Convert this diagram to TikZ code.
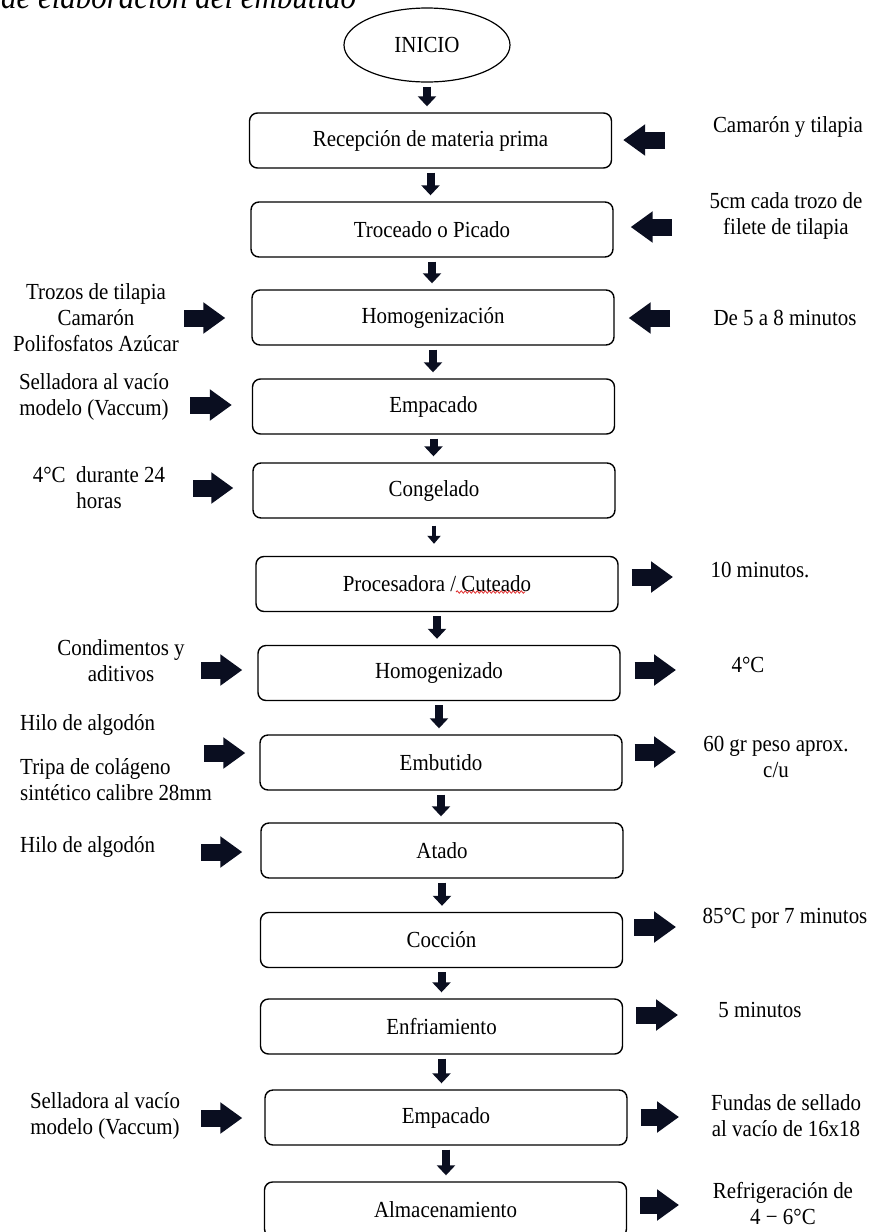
\documentclass[tikz,border=0pt]{standalone}
\usepackage{fontspec}
\setmainfont{Liberation Serif}[FakeStretch=0.91]
\usepackage{xcolor}
\usepackage{tikz}
\usetikzlibrary{shapes.geometric, arrows.meta, decorations.pathmorphing}
\definecolor{arrowblk}{RGB}{10,14,32}
\definecolor{spellred}{RGB}{225,45,45}
\newcommand{\boxfont}{\fontsize{23bp}{26bp}\selectfont}
\newcommand{\titlefont}{\fontsize{34bp}{40bp}\selectfont}
\tikzset{
  flowbox/.style={
    rectangle, rounded corners=8bp,
    minimum width=362bp, minimum height=55bp,
    inner sep=0pt, draw=black, line width=1.4bp,
    font=\boxfont
  },
  startnode/.style={ellipse, draw=black, line width=1.2bp,
    minimum width=166bp, minimum height=74bp, inner sep=0pt, font=\boxfont},
  sidelabel/.style={align=center, inner sep=0pt, font=\boxfont},
  sidelabelL/.style={align=left, anchor=west, inner sep=0pt, font=\boxfont},
  arrowdown/.style={-{Triangle[width=18bp,length=10bp]}, line width=8bp, arrowblk,
    shorten <=4bp, shorten >=6bp},
  arrowthin/.style={-{Triangle[width=13bp,length=8bp]}, line width=4.5bp, arrowblk,
    shorten <=7bp, shorten >=12bp},
  arrowside/.style={-{Triangle[width=30bp,length=22bp]}, line width=17bp, arrowblk}
}

\begin{document}
\begin{tikzpicture}[x=1bp, y=-1bp]
  \useasboundingbox (0,0) rectangle (875,1232);

  % Title (cut at the top of the page)
  \node[anchor=base west, inner sep=0pt, font=\titlefont\itshape] (titulo) at (1,8) {de elaboración del embutido};

  % Main chain of steps
  \node[startnode] (ini) at (427,45) {INICIO};
  \node[flowbox] (rec) at (430.5,140.5) {Recepción de materia prima};
  \node[flowbox] (troz) at (432,229.5) {Troceado o Picado};
  \node[flowbox] (homg) at (433,317.5) {Homogenización};
  \node[flowbox] (emp) at (433.5,406.5) {Empacado};
  \node[flowbox] (cong) at (434,490.5) {Congelado};
  \node[flowbox] (proc) at (437,584) {Procesadora / Cuteado};
  \node[flowbox] (homo) at (439,673) {Homogenizado};
  \node[flowbox] (embu) at (441,762.5) {Embutido};
  \node[flowbox] (atad) at (442,850.5) {Atado};
  \node[flowbox] (cocc) at (441.5,940) {Cocción};
  \node[flowbox] (enfr) at (441.5,1026.5) {Enfriamiento};
  \node[flowbox] (empf) at (446,1117.5) {Empacado};
  \node[flowbox] (alma) at (445.5,1209.5) {Almacenamiento};

  % Spell-check underline under Cuteado
  \draw[spellred, line width=0.8bp, decorate,
    decoration={snake, amplitude=1.2bp, segment length=4bp}] (456,592) -- (525,592);

  % Down arrows
  \foreach \a/\b in {ini/rec, rec/troz, troz/homg, homg/emp, emp/cong, proc/homo,
      homo/embu, embu/atad, atad/cocc, cocc/enfr, enfr/empf, empf/alma} {
    \draw[arrowdown] (\a.south) -- (\a.south |- \b.north);
  }
  \draw[arrowthin] (cong.south) -- (cong.south |- proc.north);

  % Labels on the left
  \node[sidelabel] (lHomgL) at (96,318) {Trozos de tilapia\\Camarón\\Polifosfatos Azúcar};
  \node[sidelabel] (lEmp) at (94,397) {Selladora al vacío\\modelo (Vaccum)};
  \node[sidelabel] (lCong) at (99,488) {4°C\ \ durante 24\\horas};
  \node[sidelabel] (lHomoL) at (121,661) {Condimentos y\\aditivos};
  \node[sidelabelL] (lEmbuA) at (20,725) {Hilo de algodón};
  \node[sidelabelL] (lEmbuB) at (20,780) {Tripa de colágeno\\sintético calibre 28mm};
  \node[sidelabelL] (lAtad) at (20,847) {Hilo de algodón};
  \node[sidelabel] (lEmpfL) at (105,1116) {Selladora al vacío\\modelo (Vaccum)};

  % Labels on the right
  \node[sidelabel] (lRec) at (788,127) {Camarón y tilapia};
  \node[sidelabel] (lTroz) at (786,216) {5cm cada trozo de\\filete de tilapia};
  \node[sidelabel] (lHomgR) at (785,318) {De 5 a 8 minutos};
  \node[sidelabel] (lProc) at (760,570) {10 minutos.};
  \node[sidelabel] (lHomoR) at (748,665) {4°C};
  \node[sidelabel] (lEmbuR) at (776,757) {60 gr peso aprox.\\c/u};
  \node[sidelabel] (lCocc) at (785,918) {85°C por 7 minutos};
  \node[sidelabel] (lEnfr) at (760,1010) {5 minutos};
  \node[sidelabel] (lEmpfR) at (786,1116) {Fundas de sellado\\al vacío de 16x18};
  \node[sidelabel] (lAlma) at (783,1203) {Refrigeración de\\4 − 6°C};

  % Inputs from the right (pointing left)
  \foreach \n/\x/\y/\s in {rec/665/140/11bp, troz/672/227/17bp, homg/670/318/14bp} {
    \coordinate (in\n) at (\x,\y);
    \draw[arrowside, shorten >=\s] (in\n) -- (in\n -| \n.east);
  }

  % Inputs from the left (pointing right)
  \foreach \n/\x/\y/\s in {homg/184/318/26bp, emp/190/405/20bp, cong/193/488/19bp,
      homo/201/670/15bp, embu/204/753/14bp, atad/201/852/18bp, empf/201/1118/22bp} {
    \coordinate (lin\n) at (\x,\y);
    \draw[arrowside, shorten >=\s] (lin\n) -- (lin\n -| \n.west);
  }

  % Outputs to the right
  \foreach \n/\x/\y/\s in {proc/673/577/13bp, homo/676/670/14bp, embu/676/752/12bp,
      cocc/676/927/11bp, enfr/678/1015/13bp, empf/679/1117/13bp, alma/679/1205/13bp} {
    \coordinate (out\n) at (\x,\y);
    \draw[arrowside, shorten <=\s] (out\n -| \n.east) -- (out\n);
  }
\end{tikzpicture}
\end{document}
